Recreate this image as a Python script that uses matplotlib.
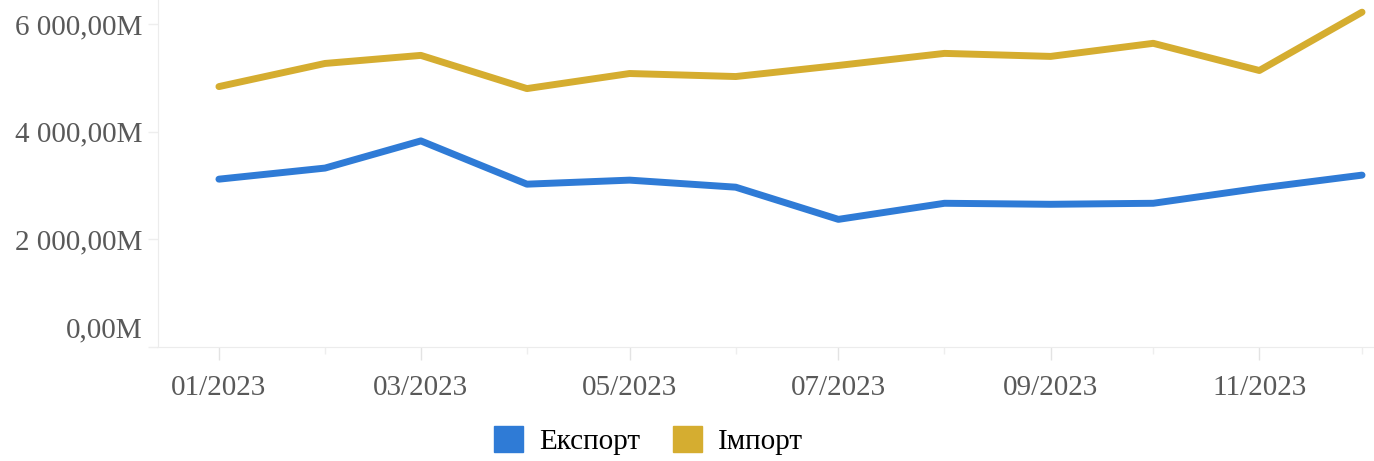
import matplotlib.pyplot as plt
import matplotlib.transforms as mtransforms
import matplotlib.dates as mdates
from matplotlib.patches import Patch
import numpy as np
import datetime as dt

months = ['01/2023', '02/2023', '03/2023', '04/2023', '05/2023', '06/2023',
          '07/2023', '08/2023', '09/2023', '10/2023', '11/2023', '12/2023']
export_m = [3121, 3327, 3832, 3028, 3103, 2972, 2374, 2673, 2654, 2673, 2953, 3196]
import_m = [4841, 5271, 5421, 4804, 5084, 5028, 5234, 5458, 5402, 5645, 5140, 6224]
y_ticks = [0, 2000, 4000, 6000]
y_labels = ['0,00M', '2 000,00M', '4 000,00M', '6 000,00M']

blue = '#2f7bd6'
gold = '#d5ad30'
grey = '#595959'

plt.rcParams['font.family'] = ['Liberation Serif', 'DejaVu Serif']

fig = plt.figure(figsize=(13.74, 4.61), dpi=100)
ax = fig.add_axes([0.115, 0.247, 0.885, 0.753])

# date axis: months are placed by real day count
dates = [dt.date(2023, int(m[:2]), 1) for m in months]
x = mdates.date2num(dates)
ax.plot(x, export_m, color=blue, lw=5, solid_capstyle='round', solid_joinstyle='round')
ax.plot(x, import_m, color=gold, lw=5, solid_capstyle='round', solid_joinstyle='round')

ax.set_xlim(x[0] - 17.8, x[-1] + 3.5)
ax.set_ylim(0, 6450)

ax.set_xticks(x[::2])
ax.set_xticklabels(months[::2], fontsize=21, color=grey)
ax.set_xticks(x[1::2], minor=True)
ax.tick_params(axis='x', which='major', length=9, width=1, color='#e3e3e3', pad=11)
ax.tick_params(axis='x', which='minor', length=5, width=1, color='#eeeeee')

ax.set_yticks(y_ticks)
ax.set_yticklabels(y_labels, fontsize=21, color=grey)
ax.tick_params(axis='y', length=7, width=1, color='#eeeeee', pad=4)
# bottom label is lifted above the axis line
lbl = ax.get_yticklabels()[0]
lbl.set_transform(lbl.get_transform() + mtransforms.ScaledTranslation(0, 20 / 100, fig.dpi_scale_trans))

for s in ['top', 'right']:
    ax.spines[s].set_visible(False)
ax.spines['left'].set_color('#ececec')
ax.spines['bottom'].set_color('#ececec')

handles = [Patch(facecolor=blue, edgecolor=blue), Patch(facecolor=gold, edgecolor=gold)]
fig.legend(handles, ['Експорт', 'Імпорт'], loc='center', bbox_to_anchor=(0.472, 0.044),
           ncol=2, frameon=False, fontsize=21, handlelength=1.0, handleheight=1.0,
           handletextpad=0.55, columnspacing=1.1)

fig.savefig('out.png', dpi=100)
